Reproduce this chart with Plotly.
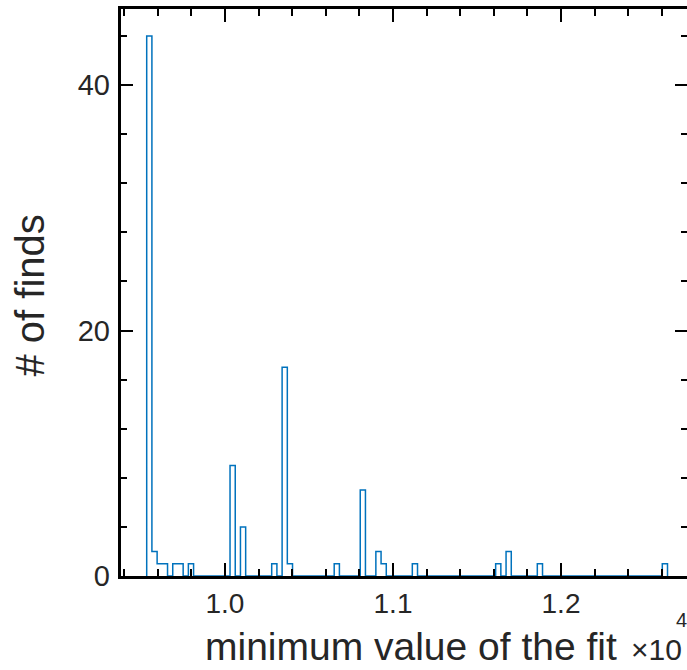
import plotly.graph_objects as go

# histogram definition (100 bins)
bin_start = 0.9534
bin_width = 0.0031
counts = [44, 2, 1, 1, 0, 1, 1, 0, 1, 0,
          0, 0, 0, 0, 0, 0, 9, 0, 4, 0,
          0, 0, 0, 0, 1, 0, 17, 1, 0, 0,
          0, 0, 0, 0, 0, 0, 1, 0, 0, 0,
          0, 7, 0, 0, 2, 1, 0, 0, 0, 0,
          0, 1, 0, 0, 0, 0, 0, 0, 0, 0,
          0, 0, 0, 0, 0, 0, 0, 1, 0, 2,
          0, 0, 0, 0, 0, 1, 0, 0, 0, 0,
          0, 0, 0, 0, 0, 0, 0, 0, 0, 0,
          0, 0, 0, 0, 0, 0, 0, 0, 0, 1]

x_tickvals = [1.0, 1.1, 1.2]
x_ticktext = ["1.0", "1.1", "1.2"]
y_tickvals = [0, 20, 40]
y_ticktext = ["0", "20", "40"]

x_label = "minimum value of the fit"
x_exp_base = "\u00d710"
x_exp_power = "4"
y_label = "# of finds"

edges = [bin_start + i * bin_width for i in range(len(counts) + 1)]
xs = [edges[0]] + edges[:-1] + [edges[-1]]
ys = [0] + counts + [0]

fig = go.Figure()
fig.add_trace(go.Scatter(
    x=xs, y=ys, mode="lines",
    line=dict(color="#0072BD", width=1.5, shape="hv"),
    hoverinfo="skip", showlegend=False,
))

FONT = "Liberation Sans, Arial, sans-serif"
TXT = "#262626"
W, H = 566, 567  # plot area size in px


def px_x(px):
    return (px - 121) / W


def px_y(py):
    return (576 - py) / H


fig.update_layout(
    width=687, height=670,
    margin=dict(l=121, r=0, t=9, b=94, pad=0),
    paper_bgcolor="white", plot_bgcolor="white",
    font=dict(family=FONT, color=TXT),
    xaxis=dict(
        range=[0.9381, 1.275],
        tickmode="array", tickvals=x_tickvals, ticktext=x_ticktext,
        ticks="inside", ticklen=13, tickwidth=2, tickcolor="black",
        showline=True, linewidth=3, linecolor="black", mirror="ticks",
        showgrid=False, zeroline=False,
        tickfont=dict(size=28, color=TXT, family=FONT),
        minor=dict(tick0=1.0, dtick=0.02, ticks="inside", ticklen=7,
                   tickwidth=1.5, tickcolor="black", showgrid=False),
    ),
    yaxis=dict(
        range=[0, 46.2],
        tickmode="array", tickvals=y_tickvals, ticktext=y_ticktext,
        ticks="inside", ticklen=12, tickwidth=2, tickcolor="black",
        showline=False, mirror="ticks",
        showgrid=False, zeroline=False,
        ticklabelstandoff=10,
        tickfont=dict(size=29, color=TXT, family=FONT),
        minor=dict(tick0=0, dtick=4, ticks="inside", ticklen=6,
                   tickwidth=1.5, tickcolor="black", showgrid=False),
    ),
    shapes=[
        dict(type="line", xref="paper", yref="paper",
             x0=-1.5 / W, x1=-1.5 / W, y0=-3 / H, y1=1 + 3 / H,
             line=dict(color="black", width=3), layer="above"),
    ],
    annotations=[
        dict(text=x_label, xref="paper", yref="paper",
             x=px_x(203), y=px_y(646),
             xanchor="left", yanchor="middle", showarrow=False,
             font=dict(size=39, color=TXT, family=FONT)),
        dict(text=x_exp_base, xref="paper", yref="paper",
             x=px_x(629), y=px_y(649),
             xanchor="left", yanchor="middle", showarrow=False,
             font=dict(size=30, color=TXT, family=FONT)),
        dict(text=x_exp_power, xref="paper", yref="paper",
             x=px_x(674), y=px_y(620),
             xanchor="left", yanchor="middle", showarrow=False,
             font=dict(size=20, color=TXT, family=FONT)),
        dict(text=y_label, xref="paper", yref="paper",
             x=px_x(29), y=px_y(295.5),
             xanchor="center", yanchor="middle", textangle=-90,
             showarrow=False,
             font=dict(size=40, color=TXT, family=FONT)),
    ],
)

fig.write_html("out.html")
